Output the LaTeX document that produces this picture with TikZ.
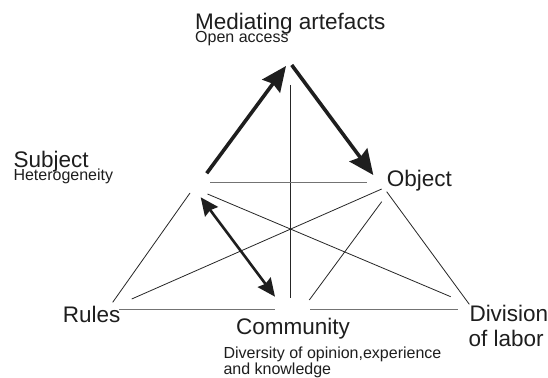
\documentclass[tikz,border=0pt]{standalone}
\usepackage{fontspec}
\setmainfont{Liberation Sans}
\usetikzlibrary{arrows.meta}
\definecolor{ink}{HTML}{1E1E1E}
\begin{document}
\begin{tikzpicture}[x=1pt,y=-1pt,
  lbl/.style={anchor=base west,inner sep=0pt,text depth=0pt,text=ink,font=\fontsize{22.5}{26}\selectfont},
  sub/.style={anchor=base west,inner sep=0pt,text=ink,font=\fontsize{16}{16}\selectfont},
  link/.style={draw=black!85,line width=0.8pt},
  hlink/.style={draw=black!55,line width=1pt},
  flow/.style={draw=ink,line width=3.6pt,-{Stealth[length=25pt,width=22pt,inset=3pt]}},
  mutual/.style={draw=ink,line width=2.6pt,
    {Stealth[length=18pt,width=16pt,inset=2pt]}-{Stealth[length=18pt,width=16pt,inset=2pt]}}
]
\fill[white] (0,0) rectangle (548,377);
\useasboundingbox (0,0) rectangle (548,377);

% labels
\node[lbl] (med) at (195,29.5) {Mediating artefacts};
\node[sub] (medsub) at (195,42.3) {Open access};
\node[lbl] (subj) at (13.3,167.3) {Subject};
\node[sub] (subjsub) at (13.3,180.7) {Heterogeneity};
\node[lbl] (obj) at (386.7,186.7) {Object};
\node[lbl] (rules) at (62.7,322.7) {Rules};
\node[lbl] (comm) at (236,334) {Community};
\node[sub] (commsub1) at (223.3,358.3) {Diversity of opinion,experience};
\node[sub] (commsub2) at (223.3,374.3) {and knowledge};
\node[lbl] (div1) at (469.3,321.7) {Division};
\node[lbl] (div2) at (468.3,346) {of labor};

% end points of the connectors
\coordinate (subjUp) at (206.7,173.3);
\coordinate (medL) at (286,66);
\coordinate (medR) at (291.7,65);
\coordinate (objUp) at (373.3,175);
\coordinate (subjLow) at (200.7,197.3);
\coordinate (commUp) at (275,296.7);

\coordinate (medV) at (290.5,85);
\coordinate (commV) at (290.5,298);
\coordinate (subjH) at (210,182.7);
\coordinate (objH) at (367,182.7);
\coordinate (rulesH) at (119.3,309.3);
\coordinate (commHL) at (275,309.3);
\coordinate (commHR) at (310,309.3);
\coordinate (divH) at (458.3,309.3);
\coordinate (subjS) at (190,193);
\coordinate (rulesS) at (112.7,302.3);
\coordinate (objS) at (386.7,191.7);
\coordinate (divS) at (469.3,304.3);
\coordinate (subjX) at (207.5,194);
\coordinate (divX) at (450.7,296.7);
\coordinate (objX) at (381.7,189);
\coordinate (rulesX) at (131.7,299);
\coordinate (objC) at (381.7,201.7);
\coordinate (commC) at (309.3,300);

% thin connectors
\draw[link] (medV) -- (commV);
\draw[hlink] (subjH) -- (objH);
\draw[hlink] (rulesH) -- (commHL);
\draw[hlink] (commHR) -- (divH);
\draw[link] (subjS) -- (rulesS);
\draw[link] (objS) -- (divS);
\draw[link] (subjX) -- (divX);
\draw[link] (objX) -- (rulesX);
\draw[link] (objC) -- (commC);

% thick arrows
\draw[flow] (subjUp) -- (medL);
\draw[flow] (medR) -- (objUp);
\draw[mutual] (subjLow) -- (commUp);
\end{tikzpicture}
\end{document}
